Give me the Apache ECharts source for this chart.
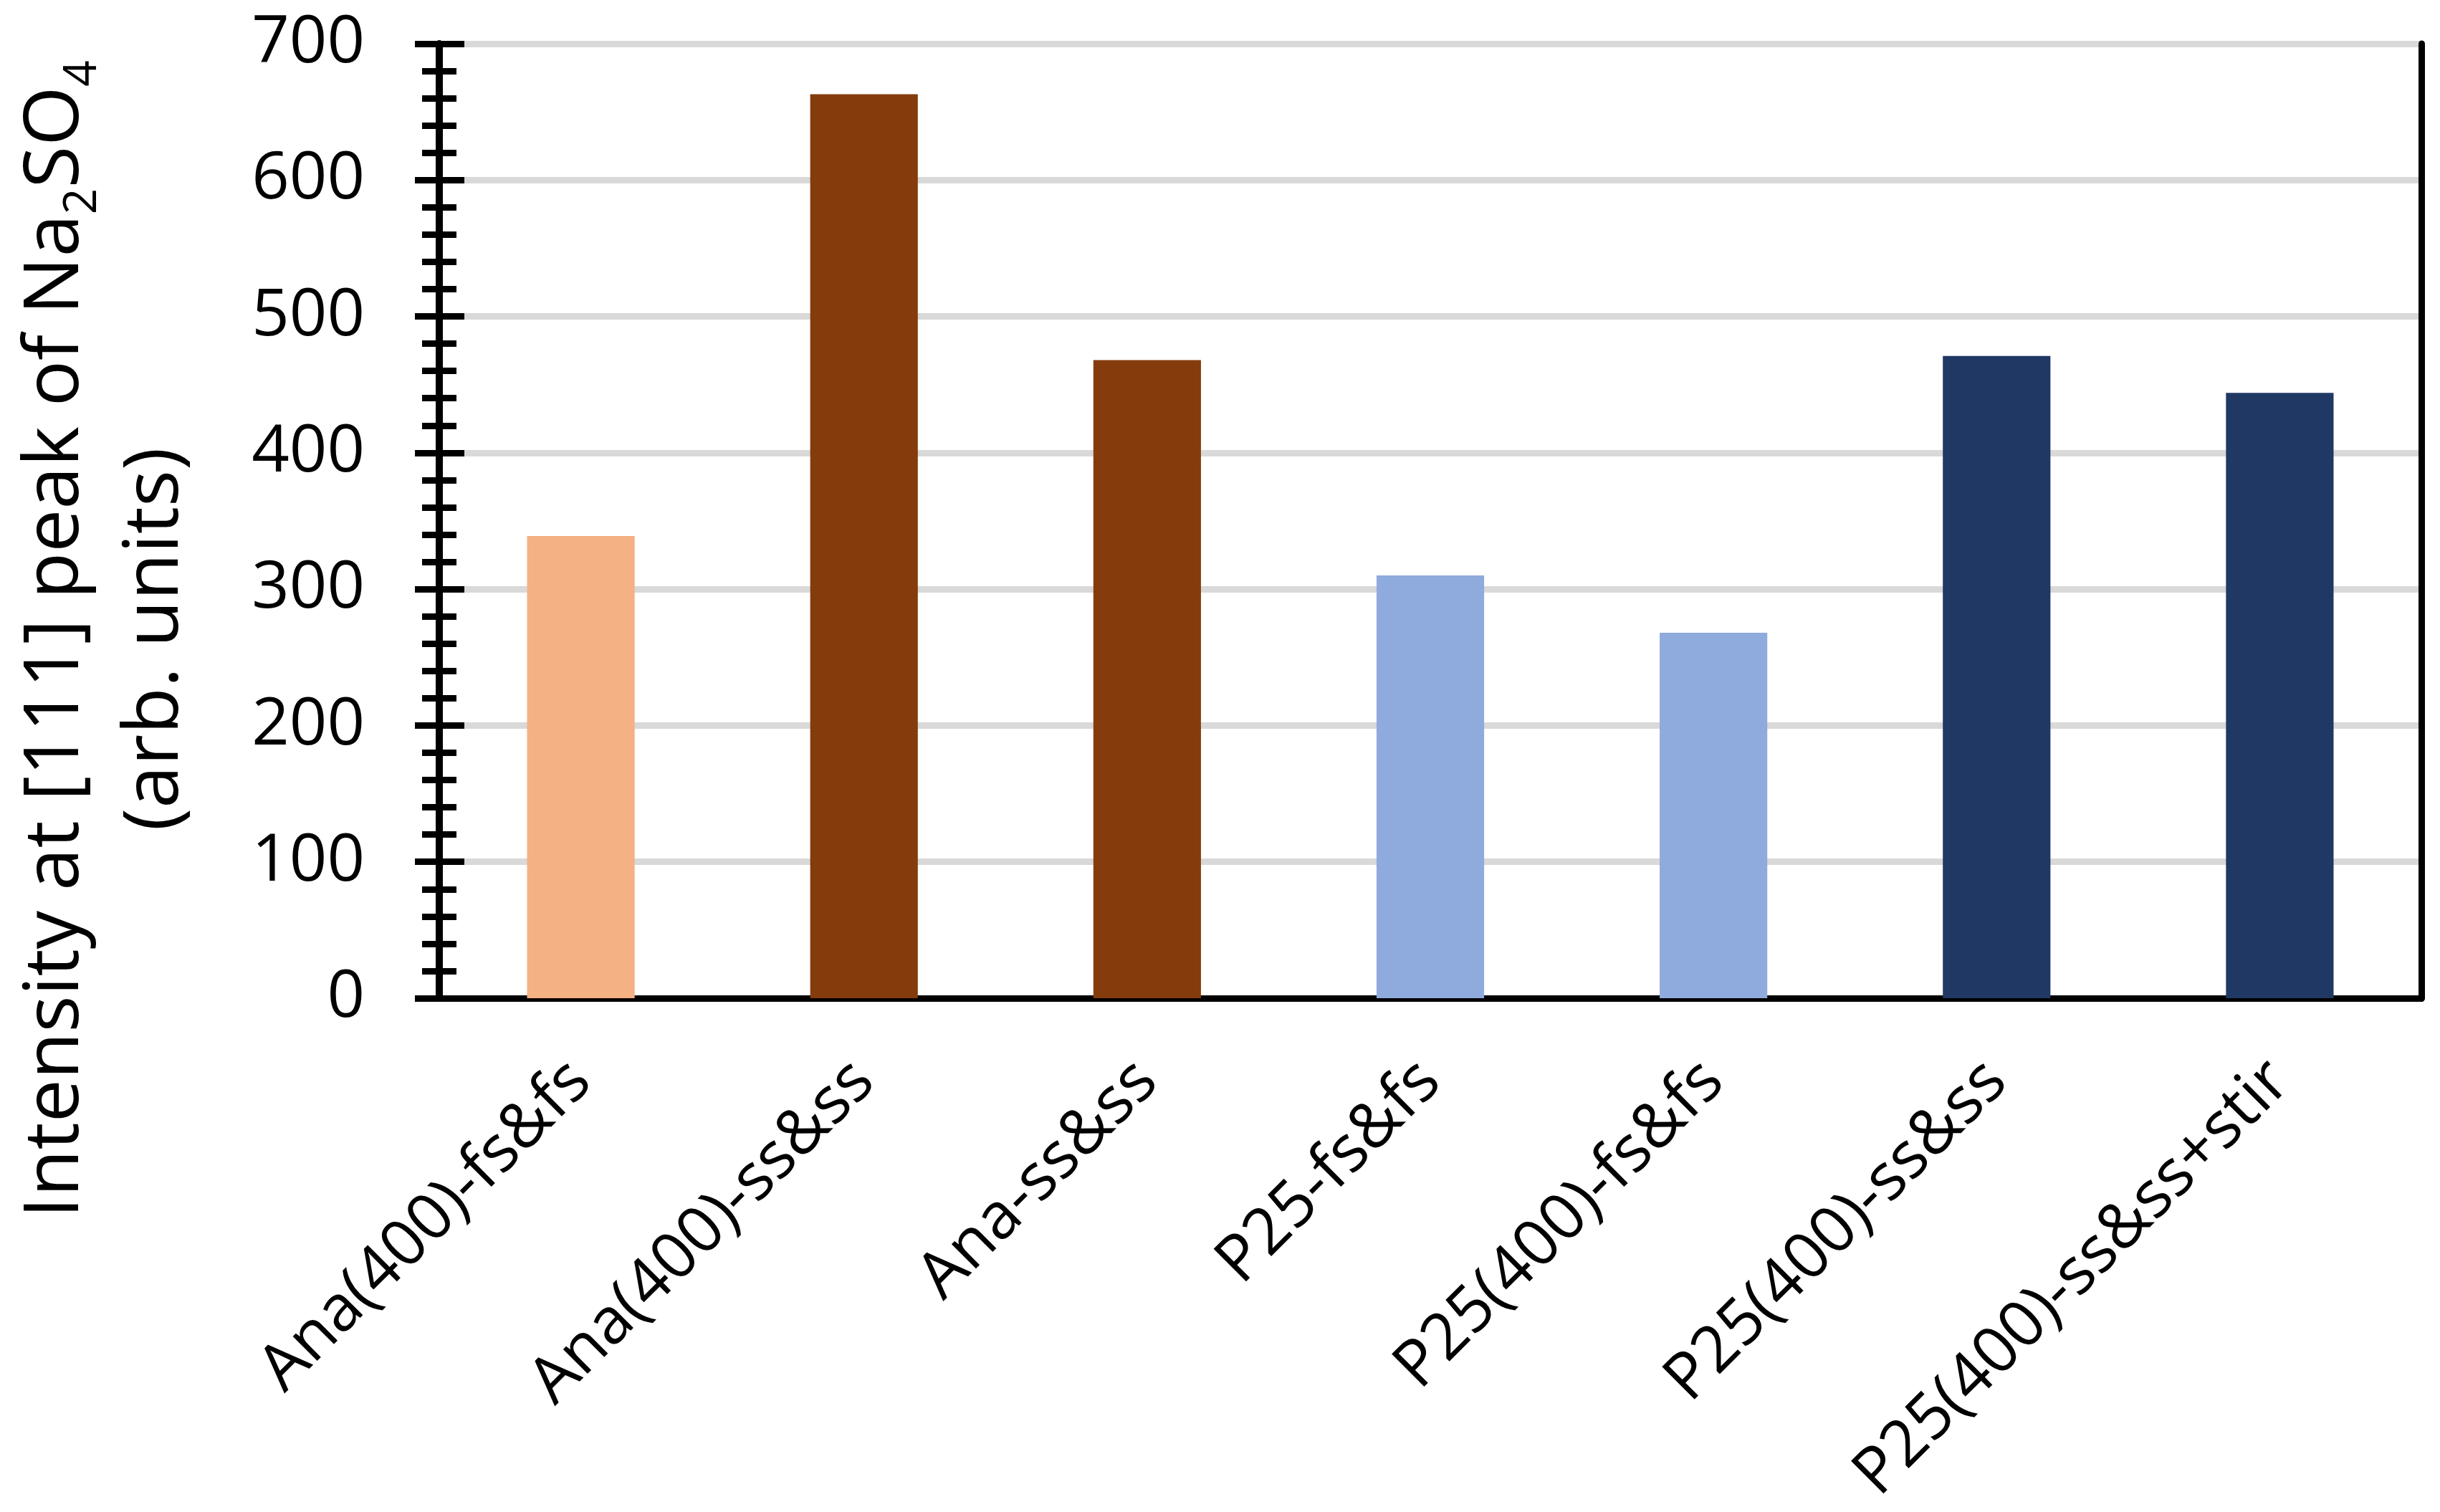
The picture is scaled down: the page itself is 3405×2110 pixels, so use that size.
<!DOCTYPE html>
<html>
<head>
<meta charset="utf-8">
<script src="https://cdn.jsdelivr.net/npm/echarts@6/dist/echarts.min.js"></script>
<style>
html,body{margin:0;padding:0;background:#fff;}
#chart{width:3405px;height:2110px;}
</style>
</head>
<body>
<div id="chart"></div>
<script>
const categories = ['Ana(400)-fs&fs','Ana(400)-ss&ss','Ana-ss&ss','P25-fs&fs','P25(400)-fs&fs','P25(400)-ss&ss','P25(400)-ss&ss+stir'];
const intensities = [339, 663, 468, 310, 268, 471, 444];
const barColors = ['#F4B183','#843C0C','#843C0C','#8FAADC','#8FAADC','#203864','#203864'];
const yMin = 0, yMax = 700, yStep = 100;

const FONT = '"Open Sans", "DejaVu Sans", sans-serif';
const chart = echarts.init(document.getElementById('chart'), null, {renderer: 'canvas'});

const baseY = {
  type: 'value', min: yMin, max: yMax, interval: yStep, position: 'left',
  minorTick: {show: true, splitNumber: 5, length: 24, lineStyle: {color: '#000', width: 9}},
  minorSplitLine: {show: false}
};

chart.setOption({
  backgroundColor: '#fff',
  animation: false,
  grid: {left: 613, right: 26, top: 61, bottom: 717, containLabel: false, outerBoundsMode: 'none'},
  xAxis: [{
    type: 'category', data: categories, position: 'bottom', offset: 4,
    axisLine: {show: true, lineStyle: {color: '#000', width: 9}},
    axisTick: {show: false},
    splitLine: {show: false},
    axisLabel: {interval: 0, rotate: 45, margin: 98, color: '#000', fontSize: 90, fontFamily: FONT}
  }, {
    type: 'category', data: categories, position: 'top', offset: 4,
    axisLine: {show: true, lineStyle: {color: '#000', width: 9}},
    axisTick: {show: false}, axisLabel: {show: false}, splitLine: {show: false}
  }],
  yAxis: [Object.assign({}, baseY, {
    axisLine: {show: true, lineStyle: {color: '#000', width: 10}},
    axisTick: {show: true, inside: false, length: 34, lineStyle: {color: '#000', width: 9}},
    splitLine: {show: true, lineStyle: {color: '#D9D9D9', width: 9}},
    axisLabel: {margin: 104, color: '#000', fontSize: 92, fontFamily: FONT},
    name: '{t|Intensity at [111] peak of Na}{s|2}{t|SO}{s|4}\n{t|(arb. units)}',
    nameLocation: 'middle', nameRotate: 90, nameGap: 326,
    nameTextStyle: {
      color: '#000', fontFamily: FONT, fontSize: 107, lineHeight: 139,
      padding: [0, 330, 0, 0],
      rich: {
        t: {fontSize: 107, lineHeight: 139, fontFamily: FONT, color: '#000'},
        s: {fontSize: 64, fontFamily: FONT, color: '#000', verticalAlign: 'bottom'}
      }
    }
  }), Object.assign({}, baseY, {
    axisLine: {show: false},
    axisTick: {show: true, inside: true, length: 35, lineStyle: {color: '#000', width: 9}},
    splitLine: {show: false},
    axisLabel: {show: false}
  }), {
    type: 'value', min: yMin, max: yMax, interval: yStep, position: 'right',
    axisLine: {show: true, lineStyle: {color: '#000', width: 9}},
    axisTick: {show: false}, axisLabel: {show: false}, splitLine: {show: false}
  }],
  series: [{
    type: 'bar', xAxisIndex: 0, yAxisIndex: 0,
    data: intensities,
    barWidth: '38%',
    itemStyle: {color: p => barColors[p.dataIndex]}
  }]
});
</script>
</body>
</html>
